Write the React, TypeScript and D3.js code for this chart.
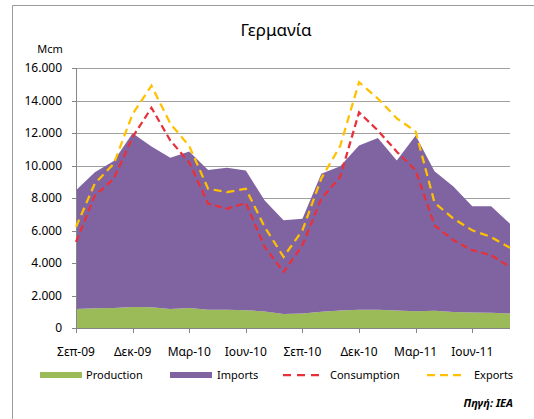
import React from "react";
import * as d3 from "d3";

const monthNames = ["Σεπ", "Οκτ", "Νοε", "Δεκ", "Ιαν", "Φεβ", "Μαρ", "Απρ", "Μαϊ", "Ιουν", "Ιουλ", "Αυγ"];
const startYear = 9;
const months = d3.range(24).map((i) => {
    const m = i % 12;
    const yr = startYear + Math.floor((i + 8) / 12);
    return `${monthNames[m]}-${String(yr).padStart(2, "0")}`;
});

const production = [1170, 1220, 1230, 1290, 1280, 1170, 1230, 1130, 1120, 1100, 1020, 860, 900, 1000, 1080, 1130, 1130, 1080, 1030, 1060, 980, 960, 940, 900];
const imports = [7300, 8370, 9040, 10700, 9890, 9300, 9630, 8600, 8740, 8590, 6830, 5770, 5830, 8490, 8870, 10100, 10570, 9230, 10810, 8590, 7730, 6540, 6550, 5520];
const consumption = [5300, 8150, 9180, 11750, 13550, 11530, 10200, 7650, 7340, 7690, 4990, 3450, 5090, 7950, 9300, 13270, 12150, 10850, 9700, 6320, 5400, 4790, 4480, 3760];
const exportsLine = [6215, 8900, 10100, 13170, 14910, 12580, 11200, 8570, 8360, 8570, 6215, 4375, 6010, 9200, 11200, 15130, 14120, 12900, 12100, 7710, 6730, 6010, 5600, 4930];
const yTicks = [0, 2000, 4000, 6000, 8000, 10000, 12000, 14000, 16000];

const W = 534;
const H = 419;
const left = 76;
const right = 510;
const top = 68;
const bottom = 328;
const font = "'Noto Sans', 'Open Sans', sans-serif";

const locale = d3.formatLocale({ decimal: ",", thousands: ".", grouping: [3], currency: ["", "€"] });
const fmt = locale.format(",");

export default function App() {
    const x = d3.scalePoint<string>().domain(months).range([left, right]);
    const y = d3.scaleLinear().domain([0, 16000]).range([bottom, top]);

    const table = months.map((m, i) => ({ month: m, production: production[i], imports: imports[i] }));
    const stacked = d3.stack<any>().keys(["production", "imports"])(table);
    const area = d3
        .area<any>()
        .x((d) => x(d.data.month) as number)
        .y0((d) => y(d[0]))
        .y1((d) => y(d[1]));
    const line = d3
        .line<number>()
        .x((_, i) => x(months[i]) as number)
        .y((d) => y(d));

    const areaColors = ["#9BBB59", "#8064A2"];
    const labelIdx = months.map((_, i) => i).filter((i) => i % 3 === 0);

    return (
        <svg width={W} height={H} style={{ position: "absolute", left: 0, top: 0 }} fontFamily={font}>
            <rect x={0} y={0} width={W} height={H} fill="#fff" />
            <line x1={12.5} y1={5.5} x2={W} y2={5.5} stroke="#9a9a9a" />
            <line x1={12.5} y1={5.5} x2={12.5} y2={H} stroke="#9a9a9a" />

            <text x={276} y={36} textAnchor="middle" fontSize={17} fill="#000">
                Γερμανία
            </text>
            <text x={50} y={53} textAnchor="middle" fontSize={11} fill="#000">
                Mcm
            </text>

            {yTicks.map((t) => (
                <g key={t}>
                    {t > 0 && <line x1={left} x2={right} y1={Math.round(y(t)) + 0.5} y2={Math.round(y(t)) + 0.5} stroke="#a0a0a0" />}
                    <line x1={left - 4} x2={left} y1={Math.round(y(t)) + 0.5} y2={Math.round(y(t)) + 0.5} stroke="#868686" />
                    <text x={62} y={y(t) + 4} textAnchor="end" fontSize={12} fill="#000">
                        {fmt(t)}
                    </text>
                </g>
            ))}

            {stacked.map((s, k) => (
                <path key={k} d={area(s) || ""} fill={areaColors[k]} />
            ))}

            <line x1={left + 0.5} x2={left + 0.5} y1={top} y2={bottom} stroke="#868686" />
            <line x1={left} x2={right} y1={bottom + 0.5} y2={bottom + 0.5} stroke="#868686" />
            {labelIdx.map((i) => (
                <g key={i}>
                    <line x1={Math.round(x(months[i]) as number) + 0.5} x2={Math.round(x(months[i]) as number) + 0.5} y1={bottom} y2={bottom + 5} stroke="#868686" />
                    <text x={x(months[i])} y={356} textAnchor="middle" fontSize={12} fill="#000">
                        {months[i]}
                    </text>
                </g>
            ))}

            <path d={line(consumption) || ""} fill="none" stroke="#E8303A" strokeWidth={2.25} strokeDasharray="7,4" />
            <path d={line(exportsLine) || ""} fill="none" stroke="#FFC000" strokeWidth={2.25} strokeDasharray="8,5" />

            <g fontSize={11} fill="#000">
                <rect x={40} y={372} width={42} height={6} fill="#9BBB59" />
                <text x={86} y={379}>Production</text>
                <rect x={170} y={372} width={42} height={6} fill="#8064A2" />
                <text x={217} y={379}>Imports</text>
                <line x1={283} x2={320} y1={375} y2={375} stroke="#E8303A" strokeWidth={2.25} strokeDasharray="8,6" />
                <text x={330} y={379}>Consumption</text>
                <line x1={427} x2={462} y1={375} y2={375} stroke="#FFC000" strokeWidth={2.25} strokeDasharray="8,5" />
                <text x={474} y={379}>Exports</text>
            </g>

            <text x={513} y={407} textAnchor="end" fontSize={11} fontWeight="bold" fontStyle="italic" fill="#000">
                Πηγή: IEA
            </text>
        </svg>
    );
}
